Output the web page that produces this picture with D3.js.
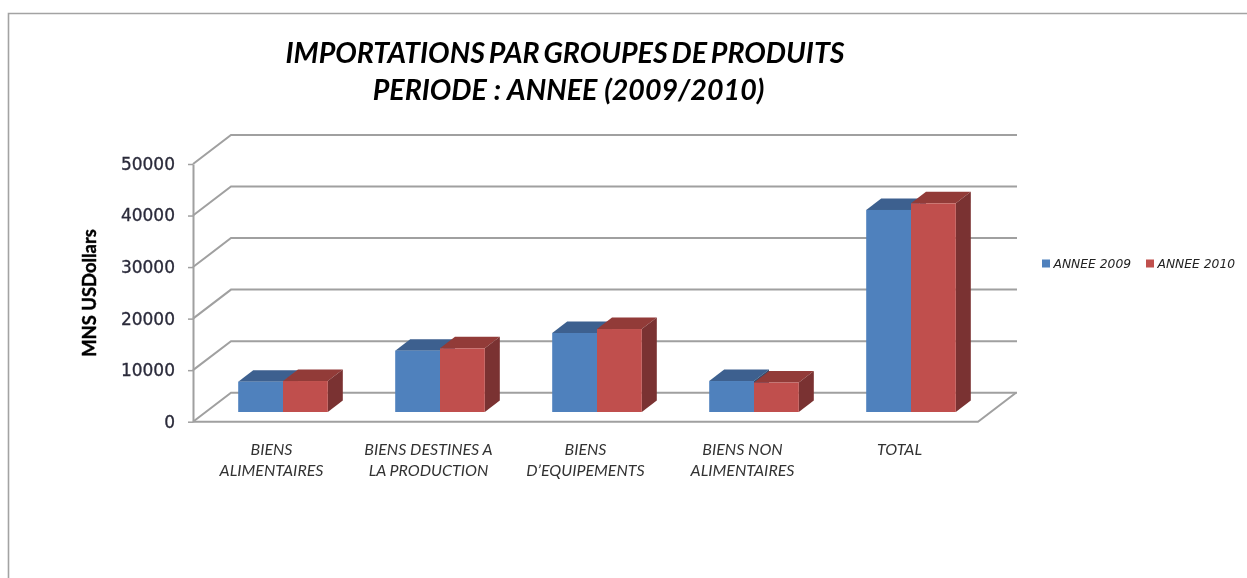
<!DOCTYPE html>
<html>
<head>
<meta charset="utf-8">
<script src="https://cdn.jsdelivr.net/npm/d3@7"></script>
<style>
html, body { margin: 0; padding: 0; background: #fff; overflow: hidden; }
svg { display: block; }
.domain { stroke: #a0a0a0; stroke-width: 2px; }
.tick line { stroke: #a0a0a0; stroke-width: 1.5px; }
</style>
</head>
<body>
<div id="chart"></div>
<script>
// values
var categories = ["BIENS|ALIMENTAIRES", "BIENS DESTINES A|LA PRODUCTION", "BIENS|D\u2019EQUIPEMENTS", "BIENS NON|ALIMENTAIRES", "TOTAL"];
var seriesNames = ["ANNEE 2009", "ANNEE 2010"];
var values2009 = [5880, 11900, 15330, 6010, 39200];
var values2010 = [6010, 12360, 16100, 5720, 40490];
var yTicks = [0, 10000, 20000, 30000, 40000, 50000];
var titleLines = ["IMPORTATIONS PAR GROUPES DE PRODUITS", "PERIODE : ANNEE (2009/2010)"];
var yTitle = "MNS USDollars";

var frontColors = ["#4f81bd", "#c0504d"];
var topColors = ["#3c618f", "#923a38"];
var sideColors = ["#2f4d72", "#7a3230"];

var width = 1247, height = 578;
var plotLeft = 193, plotRight = 978, plotBottom = 421.7, plotTop = 164;
var wallDx = 38, wallDy = 29;     // depth of the back wall
var barDx = 15, barDy = 11.5;     // depth of one bar
var barShiftX = 11.5, barShiftY = 9.7;  // bars stand a bit behind the front edge

var svg = d3.select("#chart").append("svg")
    .attr("width", width)
    .attr("height", height);

var defs = svg.append("defs");
defs.append("filter").attr("id", "soft")
    .attr("x", "-5%").attr("y", "-5%").attr("width", "110%").attr("height", "110%")
    .append("feGaussianBlur").attr("stdDeviation", 0.6);
defs.append("filter").attr("id", "softText")
    .attr("x", "-5%").attr("y", "-5%").attr("width", "110%").attr("height", "110%")
    .append("feGaussianBlur").attr("stdDeviation", 0.4);

// outer frame, runs off the right and bottom of the photo
svg.append("path")
    .attr("d", "M8.5," + height + "V13.5H" + width)
    .attr("fill", "none")
    .attr("stroke", "#a3a3a3")
    .attr("stroke-width", 1.6);

var y = d3.scaleLinear().domain([0, 50000]).range([plotBottom, plotTop]);
var x = d3.scaleBand().domain(categories).range([plotLeft, plotRight]);
var xInner = d3.scaleBand().domain(seriesNames).range([0, 89.6]);

var plot = svg.append("g").attr("filter", "url(#soft)");

/*** walls ***/
plot.append("g").selectAll("path")
    .data(yTicks)
    .enter().append("path")
    .attr("d", function (d) {
        return "M" + plotLeft + "," + y(d) + "L" + (plotLeft + wallDx) + "," + (y(d) - wallDy) + "H" + (plotRight + wallDx + 1);
    })
    .attr("fill", "none")
    .attr("stroke", "#a0a0a0")
    .attr("stroke-width", 2);

// floor, front and right edge
plot.append("path")
    .attr("d", "M" + plotLeft + "," + y(0) + "H" + plotRight + "L" + (plotRight + wallDx) + "," + (y(0) - wallDy))
    .attr("fill", "none")
    .attr("stroke", "#a0a0a0")
    .attr("stroke-width", 2);

/*** bars ***/
function drawBars(values, s) {
    var name = seriesNames[s];
    var g = plot.append("g");
    function bx(i) {
        return x(categories[i]) + (x.bandwidth() - xInner.range()[1]) / 2 + barShiftX + xInner(name);
    }
    function by(v) {
        return y(v) - barShiftY;
    }
    var w = xInner.bandwidth();
    var base = y(0) - barShiftY;

    values.forEach(function (v, i) {
        var x0 = bx(i), y0 = by(v);
        g.append("polygon")
            .attr("points", [[x0, y0], [x0 + barDx, y0 - barDy], [x0 + w + barDx, y0 - barDy], [x0 + w, y0]].join(" "))
            .attr("fill", topColors[s]);
        g.append("polygon")
            .attr("points", [[x0 + w, y0], [x0 + w + barDx, y0 - barDy], [x0 + w + barDx, base - barDy], [x0 + w, base]].join(" "))
            .attr("fill", sideColors[s]);
        g.append("rect")
            .attr("x", x0).attr("y", y0)
            .attr("width", w).attr("height", base - y0)
            .attr("fill", frontColors[s]);
    });
}
drawBars(values2009, 0);
drawBars(values2010, 1);

/*** axes ***/
var yAxis = d3.axisLeft(y).tickValues(yTicks).tickSize(5).tickSizeOuter(0).tickPadding(13).tickFormat(d3.format("d"));
var yG = svg.append("g").attr("transform", "translate(" + plotLeft + ",0)").call(yAxis);
yG.selectAll("text")
    .attr("font-family", "'DejaVu Sans'")
    .attr("font-size", 17)
    .attr("fill", "#2a2a3a")
    .attr("stroke", "#2a2a3a")
    .attr("stroke-width", 0.3)
    .attr("filter", "url(#softText)");

var xAxis = d3.axisBottom(x).tickSize(0).tickPadding(0);
var xG = svg.append("g").attr("transform", "translate(0," + plotBottom + ")").call(xAxis);
xG.select(".domain").remove();
xG.selectAll(".tick text").each(function (d) {
    var t = d3.select(this).text(null).attr("y", null).attr("dy", null);
    d.split("|").forEach(function (line, i) {
        t.append("tspan")
            .attr("x", 0)
            .attr("y", 33 + i * 21)
            .text(line);
    });
})
    .attr("font-family", "Lato")
    .attr("font-style", "italic")
    .attr("font-size", 16)
    .attr("fill", "#333")
    .attr("filter", "url(#softText)");

svg.append("text")
    .attr("transform", "translate(96,293) rotate(-90)")
    .attr("text-anchor", "middle")
    .attr("font-family", "Lato")
    .attr("font-weight", "bold")
    .attr("font-size", 18.4)
    .attr("fill", "#000")
    .attr("stroke", "#000")
    .attr("stroke-width", 0.4)
    .attr("filter", "url(#softText)")
    .text(yTitle);

/*** title ***/
svg.append("g").selectAll("text")
    .data(titleLines)
    .enter().append("text")
    .attr("x", function (d, i) { return i === 0 ? 565 : 568.5; })
    .attr("y", function (d, i) { return 63 + i * 37; })
    .attr("text-anchor", "middle")
    .attr("font-family", "Lato")
    .attr("font-weight", "bold")
    .attr("font-style", "italic")
    .attr("font-size", 28.6)
    .attr("word-spacing", function (d, i) { return i === 0 ? -2.5 : 0.5; })
    .attr("fill", "#000")
    .attr("filter", "url(#softText)")
    .text(function (d) { return d; });

/*** legend ***/
var legendX = [1042, 1146];
var legend = svg.append("g").selectAll("g")
    .data(seriesNames)
    .enter().append("g")
    .attr("transform", function (d, i) { return "translate(" + legendX[i] + ",259.5)"; });
legend.append("rect")
    .attr("width", 8).attr("height", 8)
    .attr("fill", function (d, i) { return frontColors[i]; });
legend.append("text")
    .attr("x", 11.5)
    .attr("y", 8.5)
    .attr("font-family", "'DejaVu Sans'")
    .attr("font-style", "italic")
    .attr("font-size", 12.3)
    .attr("fill", "#222")
    .attr("filter", "url(#softText)")
    .text(function (d) { return d; });
</script>
</body>
</html>
